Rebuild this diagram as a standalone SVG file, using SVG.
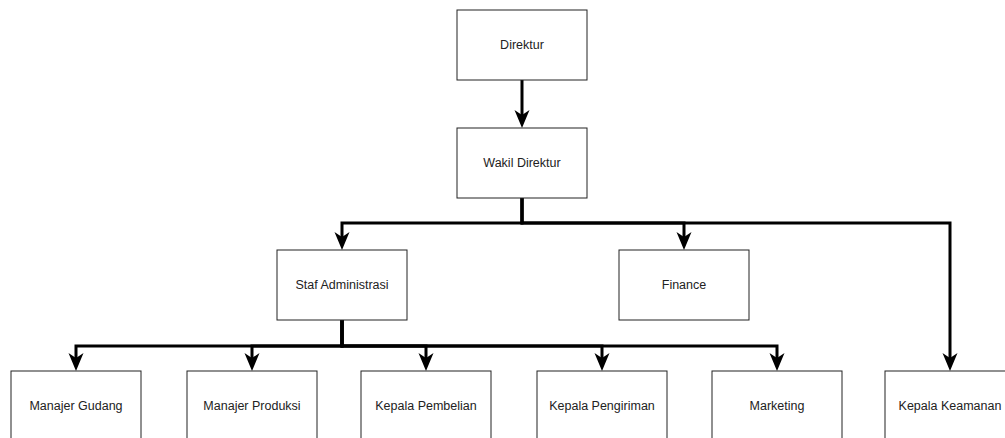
<svg xmlns="http://www.w3.org/2000/svg" width="1005" height="438" viewBox="0 0 1005 438">
<defs>
<style>
.box{fill:#fff;stroke:#222;stroke-width:1}
.lbl{font-family:"Liberation Sans",Arial,sans-serif;font-size:12.5px;fill:#222;text-anchor:middle;dominant-baseline:central}
.edge{fill:none;stroke:#000;stroke-width:3;stroke-linejoin:miter}
</style>
<marker id="arr" markerUnits="userSpaceOnUse" viewBox="-19 -8 20 16" markerWidth="20" markerHeight="16" refX="-10" refY="0" orient="auto">
<path d="M0,0 L-18,-7.5 L-13,0 L-18,7.5 Z" fill="#000"/>
</marker>
</defs>
<rect width="1005" height="438" fill="#fff"/>
<g id="connectors">
<path class="edge" d="M522,80 V118" marker-end="url(#arr)"/>
<path class="edge" d="M522,198 V223 H342 V240" marker-end="url(#arr)"/>
<path class="edge" d="M522,198 V223 H684 V240" marker-end="url(#arr)"/>
<path class="edge" d="M522,198 V223 H950 V361" marker-end="url(#arr)"/>
<path class="edge" d="M342,320 V346 H76 V361" marker-end="url(#arr)"/>
<path class="edge" d="M342,320 V346 H252 V361" marker-end="url(#arr)"/>
<path class="edge" d="M342,320 V346 H426 V361" marker-end="url(#arr)"/>
<path class="edge" d="M342,320 V346 H602 V361" marker-end="url(#arr)"/>
<path class="edge" d="M342,320 V346 H777 V361" marker-end="url(#arr)"/>
</g>
<g id="direktur"><rect class="box" x="457" y="10" width="130" height="70"/><text class="lbl" x="522" y="45">Direktur</text></g>
<g id="wakil-direktur"><rect class="box" x="457" y="128" width="130" height="70"/><text class="lbl" x="522" y="163">Wakil Direktur</text></g>
<g id="staf-administrasi"><rect class="box" x="277" y="250" width="130" height="70"/><text class="lbl" x="342" y="285">Staf Administrasi</text></g>
<g id="finance"><rect class="box" x="619" y="250" width="130" height="70"/><text class="lbl" x="684" y="285">Finance</text></g>
<g id="manajer-gudang"><rect class="box" x="11" y="371" width="130" height="70"/><text class="lbl" x="76" y="406">Manajer Gudang</text></g>
<g id="manajer-produksi"><rect class="box" x="187" y="371" width="130" height="70"/><text class="lbl" x="252" y="406">Manajer Produksi</text></g>
<g id="kepala-pembelian"><rect class="box" x="361" y="371" width="130" height="70"/><text class="lbl" x="426" y="406">Kepala Pembelian</text></g>
<g id="kepala-pengiriman"><rect class="box" x="537" y="371" width="130" height="70"/><text class="lbl" x="602" y="406">Kepala Pengiriman</text></g>
<g id="marketing"><rect class="box" x="712" y="371" width="130" height="70"/><text class="lbl" x="777" y="406">Marketing</text></g>
<g id="kepala-keamanan"><rect class="box" x="885" y="371" width="130" height="70"/><text class="lbl" x="950" y="406">Kepala Keamanan</text></g>
</svg>
